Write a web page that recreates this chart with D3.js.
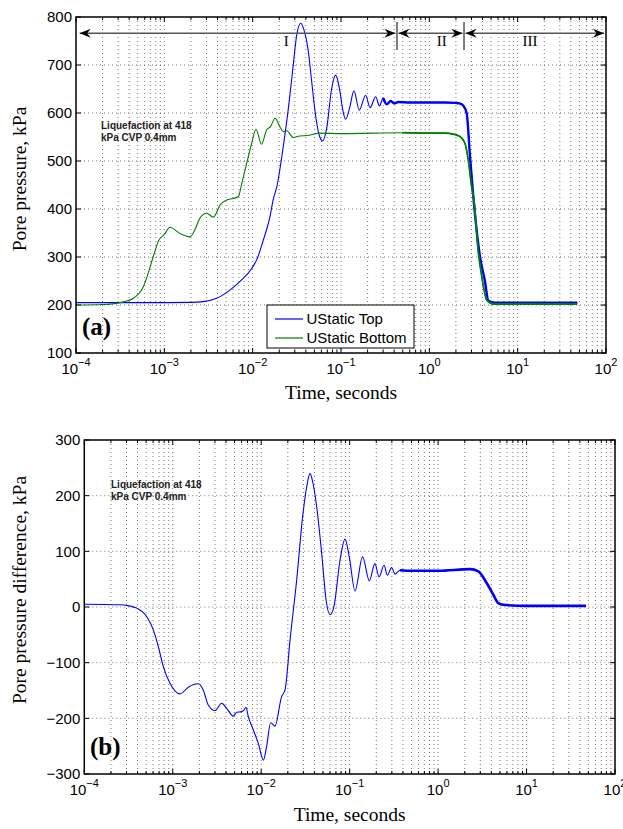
<!DOCTYPE html>
<html>
<head>
<meta charset="utf-8">
<script src="https://cdn.jsdelivr.net/npm/d3@7"></script>
<style>
body { margin: 0; background: #fff; }
</style>
</head>
<body>
<script>
// values: [time in s, pressure in kPa]
const topSeries = [
  [1e-4, 205], [1e-3, 205], [2e-3, 205.5], [2.76e-3, 207], [3.91e-3, 214], [5.53e-3, 231],
  [7.19e-3, 249], [9.75e-3, 276], [1.11e-2, 294], [1.32e-2, 335], [1.57e-2, 384], [1.71e-2, 420],
  [1.87e-2, 445], [2.22e-2, 530], [2.53e-2, 608], [2.88e-2, 700], [3.15e-2, 762], [3.5e-2, 787],
  [3.81e-2, 773], [4.27e-2, 728], [4.66e-2, 665], [5.21e-2, 589], [5.7e-2, 552], [6.2e-2, 542],
  [6.88e-2, 568], [7.84e-2, 651], [8.7e-2, 679], [9.75e-2, 644], [0.105, 605], [0.113, 587],
  [0.125, 610], [0.14, 646], [0.161, 606], [0.19, 637], [0.213, 611], [0.247, 634], [0.272, 615],
  [0.301, 631], [0.329, 618], [0.365, 625], [0.4, 620], [0.45, 623], [0.6, 622], [1, 622],
  [1.5, 622], [2.0, 621], [2.2, 620], [2.43, 615], [2.65, 599], [2.89, 508], [3.15, 425],
  [3.75, 300], [4.24, 252], [4.66, 209], [5.55, 205], [10, 205], [47.3, 205]
];
const bottomSeries = [
  [1e-4, 200], [2e-4, 201], [3.15e-4, 205], [4.46e-4, 214], [5.78e-4, 238], [7.5e-4, 301],
  [8.55e-4, 333], [1.0e-3, 347], [1.16e-3, 362], [1.5e-3, 349], [1.95e-3, 342], [2.2e-3, 355],
  [2.53e-3, 381], [3.02e-3, 391], [3.59e-3, 383], [4.27e-3, 408], [5.08e-3, 419], [6.04e-3, 422],
  [6.89e-3, 426], [7.52e-3, 453], [8.56e-3, 495], [9.75e-3, 537], [1.09e-2, 566], [1.26e-2, 535],
  [1.44e-2, 565], [1.6e-2, 572], [1.79e-2, 589], [2.04e-2, 571], [2.22e-2, 561], [2.43e-2, 563],
  [2.88e-2, 549], [3.4e-2, 552], [4.1e-2, 553], [5.78e-2, 558], [0.1, 557], [0.5, 559], [1, 558],
  [1.5, 558], [1.87, 556], [2.22, 551], [2.53, 537], [2.76, 502], [3.01, 446], [3.2, 419],
  [3.56, 315], [3.98, 252], [4.47, 210], [5.3, 202], [10, 202], [47.3, 202]
];
const diffSeries = [
  [1e-4, 5], [2.53e-4, 4], [3.2e-4, 2], [3.91e-4, -2], [5.07e-4, -17], [6.03e-4, -41],
  [6.87e-4, -71], [7.82e-4, -107], [9.3e-4, -137], [1.21e-3, -156], [1.5e-3, -144], [1.95e-3, -138],
  [2.21e-3, -149], [2.52e-3, -176], [3.0e-3, -186], [3.57e-3, -173], [4.07e-3, -182], [4.84e-3, -196],
  [5.28e-3, -189], [6.02e-3, -188], [6.4e-3, -185], [6.73e-3, -180], [7.15e-3, -197], [8.15e-3, -221],
  [9.27e-3, -245], [1.06e-2, -275], [1.15e-2, -251], [1.28e-2, -208], [1.43e-2, -214], [1.7e-2, -161],
  [1.86e-2, -149], [2.12e-2, -59], [2.52e-2, 49], [2.94e-2, 162], [3.27e-2, 216], [3.56e-2, 240],
  [3.82e-2, 225], [4.24e-2, 180], [4.83e-2, 96], [5.41e-2, 13], [6.0e-2, -14], [6.65e-2, 1],
  [7.78e-2, 84], [8.87e-2, 122], [9.9e-2, 90], [0.115, 29], [0.14, 90], [0.167, 47], [0.193, 78],
  [0.215, 54], [0.245, 75], [0.267, 57], [0.298, 71], [0.326, 59], [0.371, 66], [0.5, 65], [1, 65],
  [2.3, 68], [2.85, 64], [3.54, 43], [4.21, 22], [4.79, 7], [5.45, 4], [10, 2], [47, 2]
];

const xExponents = [-4, -3, -2, -1, 0, 1, 2];
const yTicksA = [100, 200, 300, 400, 500, 600, 700, 800];
const yTicksB = [-300, -200, -100, 0, 100, 200, 300];
const legendNames = ["UStatic Top", "UStatic Bottom"];
const noteLines = ["Liquefaction at 418", "kPa CVP 0.4mm"];
// stage arrows: start, end (seconds) and label position
const stages = [
  { name: "I", from: 1.1e-4, to: 0.43, at: 0.024 },
  { name: "II", from: 0.43, to: 2.47, at: 1.38 },
  { name: "III", from: 2.47, to: 100, at: 13.8 }
];

const W = 623, H = 829;
const svg = d3.select("body").append("svg")
  .attr("width", W).attr("height", H)
  .style("font-family", "'Liberation Sans', Arial, sans-serif");

const minus = s => String(s).replace("-", "\u2212");

function panel(o) {
  const x = d3.scaleLog().domain([1e-4, 1e2]).range([o.left, o.right]);
  const y = d3.scaleLinear().domain(o.yDomain).range([o.bottom, o.top]);
  const g = svg.append("g");

  const minor = [];
  for (let e = -4; e < 2; e++) for (let k = 2; k < 10; k++) minor.push(k * Math.pow(10, e));
  const major = xExponents.map(e => Math.pow(10, e));

  // dotted grid
  const grid = g.append("g").attr("stroke", "#555").attr("stroke-width", 0.8)
    .attr("stroke-dasharray", "1,3");
  grid.selectAll("line.v").data(minor.concat(major.slice(1, -1))).enter().append("line")
    .attr("x1", d => x(d)).attr("x2", d => x(d))
    .attr("y1", o.top).attr("y2", o.bottom);
  grid.selectAll("line.h").data(o.yTicks.slice(1, -1)).enter().append("line")
    .attr("x1", o.left).attr("x2", o.right)
    .attr("y1", d => y(d)).attr("y2", d => y(d));

  // ticks (inside, both sides)
  const tk = g.append("g").attr("stroke", "#000").attr("stroke-width", 1);
  [[major, 5], [minor, 3]].forEach(([vals, len]) => {
    vals.forEach(v => {
      tk.append("line").attr("x1", x(v)).attr("x2", x(v)).attr("y1", o.bottom).attr("y2", o.bottom - len);
      tk.append("line").attr("x1", x(v)).attr("x2", x(v)).attr("y1", o.top).attr("y2", o.top + len);
    });
  });
  o.yTicks.forEach(v => {
    tk.append("line").attr("x1", o.left).attr("x2", o.left + 5).attr("y1", y(v)).attr("y2", y(v));
    tk.append("line").attr("x1", o.right).attr("x2", o.right - 5).attr("y1", y(v)).attr("y2", y(v));
  });

  // tick labels
  g.selectAll("text.xl").data(xExponents).enter().append("text")
    .attr("x", d => x(Math.pow(10, d))).attr("y", o.bottom + 21)
    .attr("text-anchor", "middle").attr("font-size", 15)
    .each(function (d) {
      const t = d3.select(this);
      t.append("tspan").text("10");
      t.append("tspan").attr("font-size", 11).attr("dy", -8).text(minus(d));
    });
  g.selectAll("text.yl").data(o.yTicks).enter().append("text")
    .attr("x", o.left - 4).attr("y", d => y(d)).attr("dy", "0.36em")
    .attr("text-anchor", "end").attr("font-size", 15)
    .text(d => minus(d));

  // curves
  const line = d3.line().x(d => x(d[0])).y(d => y(d[1])).curve(d3.curveMonotoneX);
  o.series.forEach(s => {
    g.append("path").datum(s.data).attr("d", line)
      .attr("fill", "none").attr("stroke", s.color).attr("stroke-width", 1.1);
    g.append("path").datum(s.data.filter(d => d[0] >= s.thickFrom)).attr("d", line)
      .attr("fill", "none").attr("stroke", s.color).attr("stroke-width", s.thick)
      .attr("stroke-linejoin", "round");
  });

  // frame
  g.append("rect").attr("x", o.left).attr("y", o.top)
    .attr("width", o.right - o.left).attr("height", o.bottom - o.top)
    .attr("fill", "none").attr("stroke", "#000").attr("stroke-width", 1.5);

  // axis titles
  g.append("text").attr("x", (o.left + o.right) / 2).attr("y", o.xTitleY)
    .attr("text-anchor", "middle").attr("font-family", "'Liberation Serif', 'Times New Roman', serif")
    .attr("font-size", 19.5).text("Time, seconds");
  g.append("text").attr("transform", `translate(26,${o.yTitleMid}) rotate(-90)`)
    .attr("text-anchor", "middle").attr("font-family", "'Liberation Serif', 'Times New Roman', serif")
    .attr("font-size", 19.5).text(o.yTitle);

  // note
  noteLines.forEach((l, i) => {
    g.append("text").attr("x", o.noteX).attr("y", o.noteY + i * 11.5)
      .attr("font-size", 10).attr("font-weight", "bold").attr("fill", "#222").text(l);
  });

  // panel letter
  g.append("text").attr("x", o.letterX).attr("y", o.letterY)
    .attr("font-family", "'Liberation Serif', 'Times New Roman', serif")
    .attr("font-weight", "bold").attr("font-size", 25).text(o.letter);

  return { g, x, y };
}

const a = panel({
  left: 76, right: 606, top: 17, bottom: 353,
  yDomain: [100, 800], yTicks: yTicksA,
  series: [
    { data: topSeries, color: "#0000ff", thickFrom: 0.3, thick: 2.4 },
    { data: bottomSeries, color: "#008000", thickFrom: 0.3, thick: 1.7 }
  ],
  xTitleY: 399, yTitle: "Pore pressure, kPa", yTitleMid: 179,
  noteX: 101, noteY: 129, letter: "(a)", letterX: 82, letterY: 335
});

const b = panel({
  left: 84.3, right: 615, top: 440, bottom: 774,
  yDomain: [-300, 300], yTicks: yTicksB,
  series: [
    { data: diffSeries, color: "#0000ff", thickFrom: 0.35, thick: 2.6 }
  ],
  xTitleY: 821, yTitle: "Pore pressure difference, kPa", yTitleMid: 590,
  noteX: 111, noteY: 488, letter: "(b)", letterX: 90, letterY: 755
});

// legend in panel (a)
const lg = a.g.append("g");
lg.append("rect").attr("x", 267).attr("y", 305).attr("width", 147).attr("height", 43)
  .attr("fill", "#fff").attr("stroke", "#000").attr("stroke-width", 1);
["#0000ff", "#008000"].forEach((c, i) => {
  const yy = 319 + i * 19;
  lg.append("line").attr("x1", 275).attr("x2", 303).attr("y1", yy).attr("y2", yy)
    .attr("stroke", c).attr("stroke-width", 1.2);
  lg.append("text").attr("x", 306.5).attr("y", yy).attr("dy", "0.36em")
    .attr("font-size", 15).text(legendNames[i]);
});

// stage arrows in panel (a)
const ay = 33.3;
const arrows = a.g.append("g");
function head(px, dir) {
  return `M${px},${ay}L${px - dir * 11},${ay - 4.5}L${px - dir * 7.5},${ay}L${px - dir * 11},${ay + 4.5}Z`;
}
stages.forEach((s, i) => {
  const x0 = a.x(s.from) + (i === 0 ? 0 : 1.5);
  const x1 = a.x(s.to) - (i === stages.length - 1 ? 2 : 1.5);
  arrows.append("line").attr("x1", x0).attr("x2", x1).attr("y1", ay).attr("y2", ay)
    .attr("stroke", "#555").attr("stroke-width", 1.5);
  arrows.append("path").attr("d", head(x0, -1)).attr("fill", "#000");
  arrows.append("path").attr("d", head(x1, 1)).attr("fill", "#000");
  arrows.append("text").attr("x", a.x(s.at)).attr("y", 46)
    .attr("text-anchor", "middle").attr("font-family", "'Liberation Serif', 'Times New Roman', serif")
    .attr("font-size", 15).text(s.name);
  if (i > 0) {
    arrows.append("line").attr("x1", a.x(s.from)).attr("x2", a.x(s.from))
      .attr("y1", 22).attr("y2", 50).attr("stroke", "#555").attr("stroke-width", 1.5);
  }
});
</script>
</body>
</html>
